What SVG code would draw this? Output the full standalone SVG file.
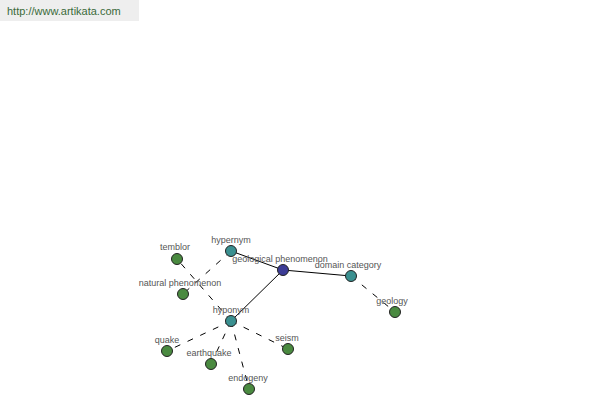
<svg xmlns="http://www.w3.org/2000/svg" width="600" height="400" viewBox="0 0 600 400">
<style>
.lbl{font-family:"Liberation Sans",Arial,sans-serif;font-size:9px;fill:#555;text-anchor:middle}
.solid{stroke:#000;stroke-width:1;fill:none}
.dash{stroke:#000;stroke-width:1;fill:none;stroke-dasharray:6,8}
.n{stroke:#222;stroke-width:1}
.blue{fill:#3c3c96}
.teal{fill:#3a9090}
.green{fill:#4a8a40}
</style>
<rect x="0" y="0" width="139" height="21" fill="#eeeeee"/>
<text x="7" y="15" style="font-family:'Liberation Sans',Arial,sans-serif;font-size:11px;fill:#3a6a3a">http://www.artikata.com</text>
<g id="connectors">
<line class="solid" x1="283" y1="270" x2="231" y2="251"/>
<line class="solid" x1="283" y1="270" x2="231" y2="321"/>
<line class="solid" x1="283" y1="270" x2="351" y2="276"/>
<line class="dash" x1="231" y1="251" x2="183" y2="294"/>
<line class="dash" x1="231" y1="321" x2="177" y2="259"/>
<line class="dash" x1="231" y1="321" x2="167" y2="351"/>
<line class="dash" x1="231" y1="321" x2="211" y2="364"/>
<line class="dash" x1="231" y1="321" x2="249" y2="389"/>
<line class="dash" x1="231" y1="321" x2="288" y2="349"/>
<line class="dash" x1="351" y1="276" x2="395" y2="312"/>
</g>
<g id="geological-phenomenon"><circle class="n blue" cx="283" cy="270" r="5.5"/><text class="lbl" x="280" y="262">geological phenomenon</text></g>
<g id="hypernym"><circle class="n teal" cx="231" cy="251" r="5.5"/><text class="lbl" x="231" y="243">hypernym</text></g>
<g id="hyponym"><circle class="n teal" cx="231" cy="321" r="5.5"/><text class="lbl" x="231" y="313">hyponym</text></g>
<g id="domain-category"><circle class="n teal" cx="351" cy="276" r="5.5"/><text class="lbl" x="348" y="268">domain category</text></g>
<g id="temblor"><circle class="n green" cx="177" cy="259" r="5.5"/><text class="lbl" x="175" y="250">temblor</text></g>
<g id="natural-phenomenon"><circle class="n green" cx="183" cy="294" r="5.5"/><text class="lbl" x="180" y="286">natural phenomenon</text></g>
<g id="geology"><circle class="n green" cx="395" cy="312" r="5.5"/><text class="lbl" x="392" y="304">geology</text></g>
<g id="quake"><circle class="n green" cx="167" cy="351" r="5.5"/><text class="lbl" x="167" y="343">quake</text></g>
<g id="earthquake"><circle class="n green" cx="211" cy="364" r="5.5"/><text class="lbl" x="209" y="356">earthquake</text></g>
<g id="endogeny"><circle class="n green" cx="249" cy="389" r="5.5"/><text class="lbl" x="248" y="381">endogeny</text></g>
<g id="seism"><circle class="n green" cx="288" cy="349" r="5.5"/><text class="lbl" x="287" y="341">seism</text></g>
</svg>
